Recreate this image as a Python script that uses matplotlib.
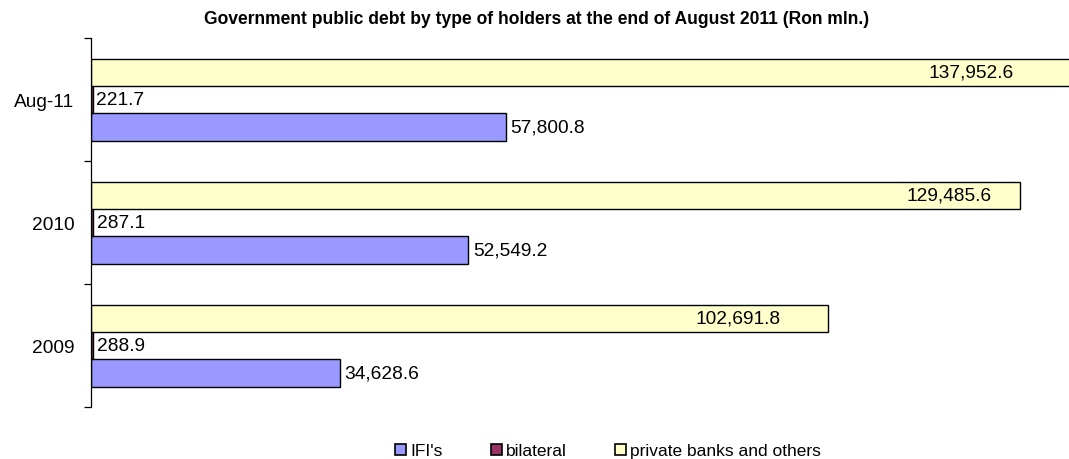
import matplotlib
matplotlib.use("Agg")
import matplotlib.pyplot as plt
import numpy as np
from matplotlib.patches import Patch

plt.rcParams['font.family'] = ['Liberation Sans', 'DejaVu Sans']

# debt by holder type, Ron mln.
years = ["2009", "2010", "Aug-11"]
ifis = [34628.6, 52549.2, 57800.8]
bilateral = [288.9, 287.1, 221.7]
private_banks = [102691.8, 129485.6, 137952.6]

series_names = ["IFI's", "bilateral", "private banks and others"]
colors = ["#9999FF", "#993366", "#FFFFCC"]

# how far (px) the private-bank labels sit left of the bar end
private_label_pad = [47, 29, 55]

fig = plt.figure(figsize=(10.69, 4.6), dpi=100)
ax = fig.add_axes([91 / 1069, 52 / 460, 978 / 1069, 369 / 460])

y = np.arange(len(years))
h = 1 / 4.5
xmax = 136270

ax.barh(y - h, ifis, height=h, color=colors[0], edgecolor="black", linewidth=1.0)
ax.barh(y, bilateral, height=h, color=colors[1], edgecolor="black", linewidth=1.0)
ax.barh(y + h, private_banks, height=h, color=colors[2], edgecolor="black", linewidth=1.0)

fs = 13.8
for i in range(len(years)):
    ax.annotate(f"{ifis[i]:,.1f}", (ifis[i], y[i] - h), xytext=(3.5, 0),
                textcoords="offset points", ha="left", va="center", fontsize=fs)
    ax.annotate(f"{bilateral[i]:,.1f}", (bilateral[i], y[i]), xytext=(2.5, 0),
                textcoords="offset points", ha="left", va="center", fontsize=fs)
    ax.annotate(f"{private_banks[i]:,.1f}", (min(private_banks[i], xmax), y[i] + h),
                xytext=(-private_label_pad[i] * 0.72, 0), textcoords="offset points",
                ha="right", va="center", fontsize=fs)

ax.set_xlim(0, xmax)
ax.set_ylim(-0.5, len(years) - 0.5)
ax.set_yticks(y)
ax.set_yticklabels(years, fontsize=fs)
ax.set_yticks(np.arange(-0.5, len(years)), minor=True)
ax.tick_params(axis="y", which="major", length=0, pad=12)
ax.tick_params(axis="y", which="minor", length=5, width=0.9, direction="out")
ax.set_xticks([])
for side in ["top", "right", "bottom"]:
    ax.spines[side].set_visible(False)
ax.spines["left"].set_linewidth(0.9)

fig.text(537 / 1069, 1 - 19 / 460,
         "Government public debt by type of holders at the end of August 2011 (Ron mln.)",
         ha="center", va="center", fontsize=12.65, fontweight="bold")

handles = [Patch(facecolor=c, edgecolor="black", linewidth=1.2) for c in colors]
fig.legend(handles, series_names, loc="center", bbox_to_anchor=(608 / 1069, 1 - 452 / 460),
           ncol=3, frameon=False, fontsize=12.5, handlelength=0.63, handleheight=0.63,
           handletextpad=0.25, columnspacing=2.75, borderpad=0)

fig.savefig("out.png", dpi=100)
